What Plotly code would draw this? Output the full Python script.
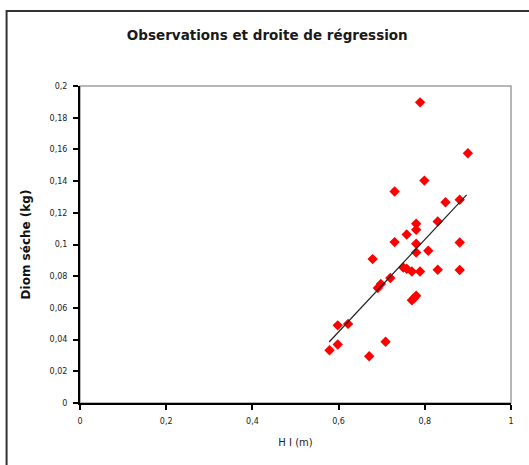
import plotly.graph_objects as go

# Observations (H I in m, Diom sèche in kg)
hi_m = [0.789, 0.900, 0.799, 0.730, 0.848, 0.881, 0.830, 0.780, 0.780, 0.758,
        0.730, 0.780, 0.780, 0.808, 0.881, 0.679, 0.750, 0.758, 0.770, 0.789,
        0.830, 0.881, 0.720, 0.698, 0.691, 0.780, 0.770, 0.775, 0.598, 0.622,
        0.598, 0.579, 0.709, 0.671]
diom_kg = [0.1897, 0.1576, 0.1403, 0.1334, 0.1267, 0.1282, 0.1145, 0.1131, 0.1093, 0.1063,
           0.1015, 0.1005, 0.0950, 0.0961, 0.1013, 0.0908, 0.0855, 0.0847, 0.0830, 0.0830,
           0.0841, 0.0839, 0.0789, 0.0751, 0.0726, 0.0677, 0.0648, 0.0661, 0.0490, 0.0499,
           0.0369, 0.0333, 0.0386, 0.0295]

# Regression line endpoints
reg_x = [0.578, 0.897]
reg_y = [0.0385, 0.1313]

x_tickvals = [0, 0.2, 0.4, 0.6, 0.8, 1]
x_ticktext = ["0", "0,2", "0,4", "0,6", "0,8", "1"]
y_tickvals = [0, 0.02, 0.04, 0.06, 0.08, 0.1, 0.12, 0.14, 0.16, 0.18, 0.2]
y_ticktext = ["0", "0,02", "0,04", "0,06", "0,08", "0,1", "0,12", "0,14", "0,16", "0,18", "0,2"]

FONT = "DejaVu Sans, Verdana, sans-serif"

fig = go.Figure()
fig.add_trace(go.Scatter(
    x=hi_m, y=diom_kg, mode="markers",
    marker=dict(symbol="diamond", size=8, color="#ff0000", line=dict(width=0)),
    showlegend=False, cliponaxis=False))
fig.add_trace(go.Scatter(
    x=reg_x, y=reg_y, mode="lines",
    line=dict(color="#222222", width=1.2),
    showlegend=False))

L, R, T, B = 79.5, 18, 86, 61.5
W, H = 529, 465
pw, ph = W - L - R, H - T - B

def px2paper_x(px):
    return (px - L) / pw

def py2paper_y(py):
    return (H - B - py) / ph

# outer chart border
fig.add_shape(type="rect", xref="paper", yref="paper",
              x0=px2paper_x(6), x1=px2paper_x(540),
              y0=py2paper_y(480), y1=py2paper_y(11),
              line=dict(color="#333333", width=2), layer="below")
# plot area frame (grey)
fig.add_shape(type="rect", xref="paper", yref="paper",
              x0=0, x1=1, y0=0, y1=1,
              line=dict(color="#a0a0a0", width=1.5), layer="below")

fig.update_layout(
    width=W, height=H,
    margin=dict(l=L, r=R, t=T, b=B, autoexpand=False),
    paper_bgcolor="white", plot_bgcolor="white",
    font=dict(family=FONT, color="#111111"),
    title=dict(text="<b>Observations et droite de régression</b>",
               x=px2paper_x(267), xref="paper", xanchor="center",
               y=1 - 35 / H, yanchor="middle",
               font=dict(size=13.5, family=FONT, color="#1a1a1a")),
    xaxis=dict(range=[0, 1], tickvals=x_tickvals, ticktext=x_ticktext,
               automargin=False,
               showgrid=False, zeroline=False, showline=True,
               linecolor="black", linewidth=2, ticks="outside", ticklen=5,
               tickwidth=1.5, tickcolor="black", ticklabelstandoff=4,
               tickfont=dict(size=8, family=FONT, color="#222222"),
               title=dict(text="H I (m)", font=dict(size=10, family=FONT, color="#222222"),
                          standoff=14)),
    yaxis=dict(range=[0, 0.2], tickvals=y_tickvals, ticktext=y_ticktext,
               automargin=False,
               showgrid=False, zeroline=False, showline=True,
               linecolor="black", linewidth=2, ticks="outside", ticklen=5,
               tickwidth=1.5, tickcolor="black", ticklabelstandoff=4,
               tickfont=dict(size=8, family=FONT, color="#222222"),
               title=dict(text="<b>Diom séche (kg)</b>",
                          font=dict(size=12, family=FONT, color="#111111"),
                          standoff=16)),
)

fig.write_html("out.html", config={"displayModeBar": False},
               post_script="document.body.style.margin='0px';")
